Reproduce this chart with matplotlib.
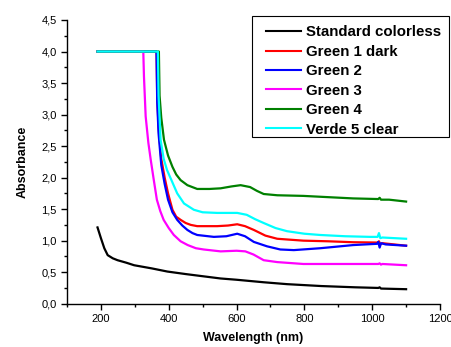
import matplotlib
matplotlib.use("Agg")
import matplotlib.pyplot as plt
from matplotlib.patches import Rectangle
from matplotlib.ticker import MultipleLocator, FuncFormatter

plt.rcParams['font.family'] = ['Liberation Sans', 'DejaVu Sans']

# wavelength (nm) / absorbance
std_x = [190, 200, 210, 220, 235, 249, 275, 298, 350, 396, 450, 494, 553, 600,
         680, 749, 850, 950, 1018, 1022, 1026, 1100]
std_y = [1.21, 1.04, 0.88, 0.77, 0.72, 0.69, 0.65, 0.61, 0.56, 0.51, 0.47, 0.44,
         0.40, 0.38, 0.34, 0.31, 0.28, 0.26, 0.25, 0.26, 0.24, 0.23]

g1_x = [190, 364, 366, 370, 378, 388, 398, 411, 422, 435, 450, 465, 484, 543,
        575, 602, 625, 651, 685, 720, 797, 870, 944, 1016, 1020, 1024, 1030, 1100]
g1_y = [4.0, 4.0, 3.3, 2.8, 2.3, 2.0, 1.75, 1.49, 1.38, 1.33, 1.28, 1.25, 1.23,
        1.23, 1.24, 1.26, 1.23, 1.17, 1.08, 1.03, 1.0, 0.99, 0.975, 0.97, 0.99,
        0.94, 0.96, 0.92]

g2_x = [190, 364, 366, 370, 378, 388, 398, 411, 425, 440, 455, 470, 484, 533,
        570, 602, 625, 651, 690, 729, 769, 847, 944, 1014, 1018, 1022, 1026,
        1040, 1100]
g2_y = [4.0, 4.0, 3.2, 2.7, 2.2, 1.9, 1.65, 1.45, 1.33, 1.24, 1.17, 1.12, 1.09,
        1.06, 1.07, 1.11, 1.07, 0.98, 0.91, 0.86, 0.85, 0.88, 0.93, 0.95, 0.98,
        0.89, 0.96, 0.94, 0.92]

g3_x = [190, 325, 327, 332, 340, 347, 356, 365, 375, 385, 400, 415, 435, 456,
        480, 503, 553, 600, 626, 650, 680, 720, 797, 900, 1000, 1018, 1022, 1026,
        1030, 1100]
g3_y = [4.0, 4.0, 3.6, 2.97, 2.55, 2.28, 1.96, 1.65, 1.47, 1.33, 1.2, 1.09, 0.99,
        0.93, 0.88, 0.86, 0.83, 0.84, 0.83, 0.78, 0.69, 0.66, 0.63, 0.63, 0.63,
        0.63, 0.64, 0.62, 0.63, 0.61]

g4_x = [190, 371, 373, 378, 386, 398, 411, 422, 435, 455, 484, 520, 553, 585,
        612, 640, 660, 680, 720, 797, 870, 944, 1018, 1022, 1026, 1050, 1100]
g4_y = [4.0, 4.0, 3.3, 2.95, 2.6, 2.35, 2.17, 2.05, 1.96, 1.88, 1.82, 1.82, 1.83,
        1.86, 1.88, 1.85, 1.79, 1.74, 1.72, 1.71, 1.69, 1.67, 1.66, 1.68, 1.65,
        1.65, 1.62]

v5_x = [190, 368, 370, 376, 385, 395, 408, 425, 445, 474, 500, 543, 602, 630,
        655, 680, 715, 749, 800, 847, 920, 994, 1016, 1020, 1024, 1030, 1100]
v5_y = [4.0, 4.0, 3.3, 2.6, 2.3, 2.12, 1.96, 1.75, 1.59, 1.49, 1.45, 1.44, 1.44,
        1.41, 1.34, 1.28, 1.2, 1.15, 1.11, 1.09, 1.07, 1.06, 1.06, 1.12, 1.04,
        1.05, 1.03]

series = [
    (std_x, std_y, 'Standard colorless', 'black'),
    (g1_x, g1_y, 'Green 1 dark', '#ff0000'),
    (g2_x, g2_y, 'Green 2', '#0000ff'),
    (g3_x, g3_y, 'Green 3', '#ff00ff'),
    (g4_x, g4_y, 'Green 4', '#008000'),
    (v5_x, v5_y, 'Verde 5 clear', '#00ffff'),
]

W, H = 451, 347
fig = plt.figure(figsize=(W / 100, H / 100), dpi=100)
ax = fig.add_axes([67 / W, 1 - 303.7 / H, 373 / W, 283.7 / H])

for x, y, name, col in series:
    ax.plot(x, y, color=col, lw=1.6, label=name)

ax.set_xlim(100, 1200)
ax.set_ylim(0, 4.5)
ax.xaxis.set_major_locator(MultipleLocator(200))
ax.xaxis.set_minor_locator(MultipleLocator(100))
ax.yaxis.set_major_locator(MultipleLocator(0.5))
ax.yaxis.set_minor_locator(MultipleLocator(0.25))
ax.yaxis.set_major_formatter(FuncFormatter(lambda v, p: f"{v:.1f}".replace('.', ',')))
ax.xaxis.set_major_formatter(FuncFormatter(lambda v, p: "" if v < 150 else f"{v:.0f}"))

ax.spines['top'].set_visible(False)
ax.spines['right'].set_visible(False)
for s in ['left', 'bottom']:
    ax.spines[s].set_linewidth(1.0)
ax.tick_params(which='major', length=4, width=1, labelsize=8, direction='out')
ax.tick_params(which='minor', length=2.5, width=1, direction='out')

ax.set_xlabel('Wavelength (nm)', fontsize=9, fontweight='bold', labelpad=6)
ax.set_ylabel('Absorbance', fontsize=9, fontweight='bold', labelpad=9)

# legend box drawn separately so the padding matches the original
fig.patches.append(Rectangle((252 / W, 1 - 137 / H), 197 / W, 121 / H,
                             transform=fig.transFigure, fill=False,
                             edgecolor='black', lw=0.8))
leg = fig.legend(loc='upper left', bbox_to_anchor=(266 / W, 1 - 25.5 / H),
                 frameon=False, borderaxespad=0, borderpad=0,
                 prop={'weight': 'bold', 'size': 10.8}, handlelength=2.35,
                 handletextpad=0.33, labelspacing=0.36)
for ln in leg.get_lines():
    ln.set_linewidth(1.5)

fig.savefig('out.png', dpi=100)
